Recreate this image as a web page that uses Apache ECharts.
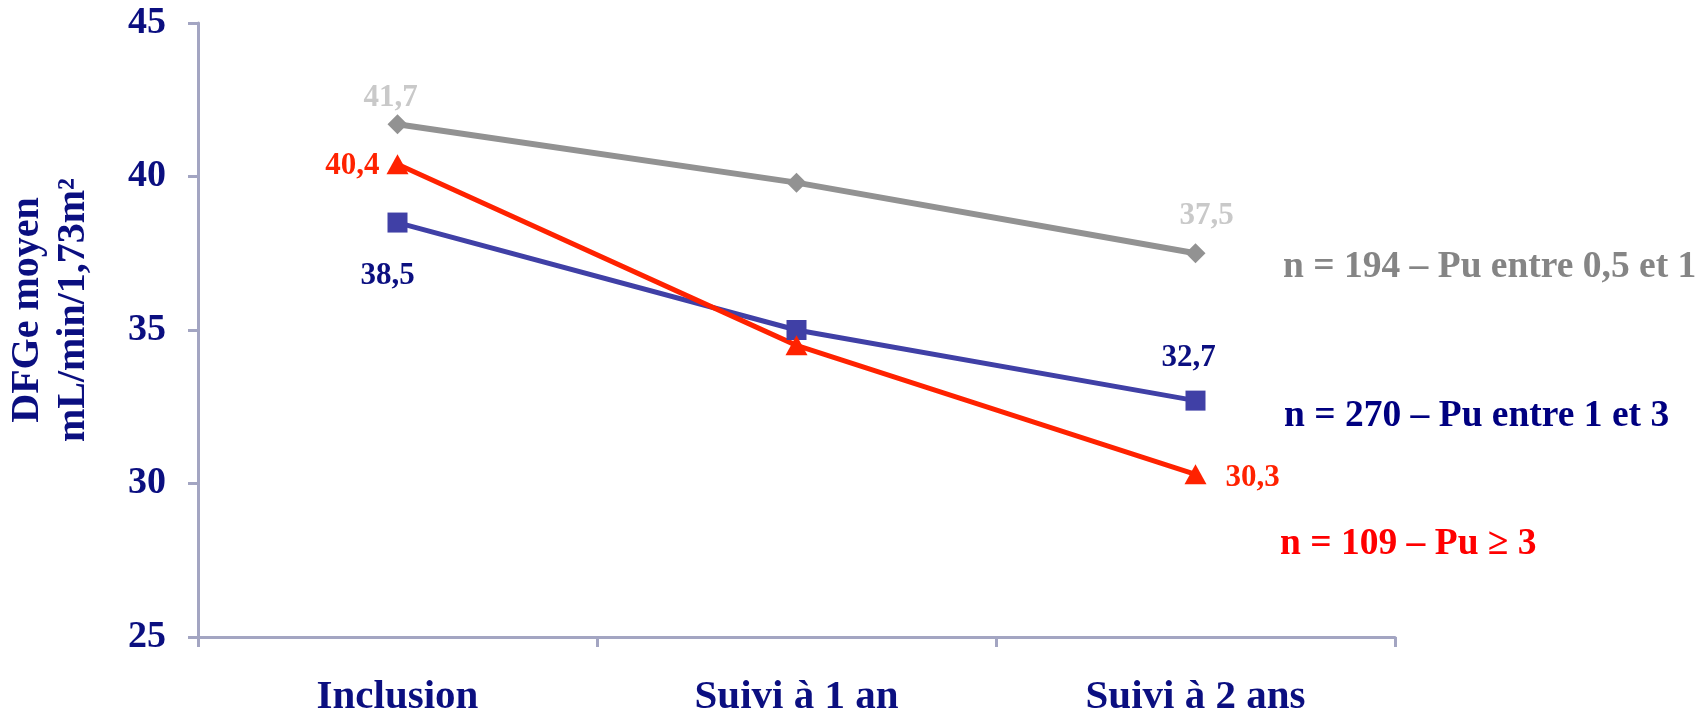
<!DOCTYPE html>
<html>
<head>
<meta charset="utf-8">
<script src="https://cdn.jsdelivr.net/npm/echarts@6/dist/echarts.min.js"></script>
<style>
  html, body { margin: 0; padding: 0; background: #ffffff; }
  #chart { width: 1698px; height: 712px; }
</style>
</head>
<body>
<div id="chart"></div>
<script>
// Mean eGFR (mL/min/1.73 m²) over follow-up, by proteinuria group
const categories = ['Inclusion', 'Suivi à 1 an', 'Suivi à 2 ans'];
const seriesNames = [
  'n = 194 – Pu entre 0,5 et 1',
  'n = 270 – Pu entre 1 et 3',
  'n = 109 – Pu ≥ 3'
];
const puLow = [41.7, 39.8, 37.5];     // Pu 0.5–1
const puMid = [38.5, 35.0, 32.7];     // Pu 1–3
const puHigh = [40.4, 34.5, 30.3];    // Pu ≥ 3
const yTicks = { min: 25, max: 45, interval: 5 };

const SERIF = '"Liberation Serif", "Times New Roman", serif';
const NAVY = '#0b0f80';

const fmt = v => String(v).replace('.', ',');

// label placement for the first and last point of each line
function withLabels(values, color, first, last) {
  return values.map((v, i) => {
    const cfg = i === 0 ? first : (i === values.length - 1 ? last : null);
    if (!cfg) return { value: v, label: { show: false } };
    return {
      value: v,
      label: Object.assign({
        show: true,
        color: color,
        fontFamily: SERIF,
        fontWeight: 'bold',
        fontSize: 31,
        formatter: p => fmt(p.value)
      }, cfg)
    };
  });
}

const chart = echarts.init(document.getElementById('chart'), null, { renderer: 'canvas' });

function legendFor(name, color, left, top) {
  return {
    data: [name],
    left: left,
    top: top,
    padding: 0,
    icon: 'none',
    itemWidth: 0,
    itemHeight: 0,
    itemGap: 0,
    selectedMode: false,
    textStyle: { color: color, fontFamily: SERIF, fontWeight: 'bold', fontSize: 37.5, padding: 0 }
  };
}

chart.setOption({
  animation: false,
  backgroundColor: '#ffffff',
  grid: { left: 198, right: 303, top: 23, bottom: 75, containLabel: false, outerBoundsMode: 'none' },
  legend: [
    legendFor(seriesNames[0], '#858585', 1278, 248),
    legendFor(seriesNames[1], '#000080', 1279, 397),
    legendFor(seriesNames[2], '#ff0000', 1275, 525)
  ],
  xAxis: {
    type: 'category',
    data: categories,
    boundaryGap: true,
    axisLine: { lineStyle: { color: '#a3a5c2', width: 3 } },
    axisTick: { show: true, length: 10, lineStyle: { color: '#a3a5c2', width: 3 } },
    axisLabel: {
      color: NAVY, fontFamily: SERIF, fontWeight: 'bold', fontSize: 41, margin: 40
    },
    splitLine: { show: false }
  },
  yAxis: {
    type: 'value',
    min: yTicks.min,
    max: yTicks.max,
    interval: yTicks.interval,
    name: 'DFGe moyen\nmL/min/1,73m²',
    nameLocation: 'middle',
    nameRotate: 90,
    nameGap: 101,
    nameTextStyle: {
      color: NAVY, fontFamily: SERIF, fontWeight: 'bold', fontSize: 40, lineHeight: 46,
      padding: [0, 0, 0, 40]
    },
    axisLine: { show: true, lineStyle: { color: '#a3a5c2', width: 3 } },
    axisTick: { show: true, length: 10, lineStyle: { color: '#a3a5c2', width: 3 } },
    axisLabel: {
      color: NAVY, fontFamily: SERIF, fontWeight: 'bold', fontSize: 38, margin: 32
    },
    splitLine: { show: false }
  },
  series: [
    {
      name: seriesNames[0],
      type: 'line',
      data: withLabels(puLow, '#c9c9c9',
        { position: 'top', distance: 1, offset: [-7, 0] },
        { position: 'top', distance: 12, offset: [11, 0] }),
      symbol: 'diamond',
      symbolSize: [20, 20],
      lineStyle: { color: '#929292', width: 6 },
      itemStyle: { color: '#929292' }
    },
    {
      name: seriesNames[1],
      type: 'line',
      data: withLabels(puMid, NAVY,
        { position: 'bottom', distance: 28, offset: [-10, 0] },
        { position: 'top', distance: 17, offset: [-7, 0] }),
      symbol: 'rect',
      symbolSize: 20,
      lineStyle: { color: '#4040a6', width: 5 },
      itemStyle: { color: '#4040a6' }
    },
    {
      name: seriesNames[2],
      type: 'line',
      data: withLabels(puHigh, '#ff2200',
        { position: 'left', distance: 7, offset: [0, 2] },
        { position: 'right', distance: 19, offset: [0, 4] }),
      symbol: 'triangle',
      symbolSize: [22, 20],
      lineStyle: { color: '#ff2200', width: 5 },
      itemStyle: { color: '#ff2200' }
    }
  ]
});
</script>
</body>
</html>
